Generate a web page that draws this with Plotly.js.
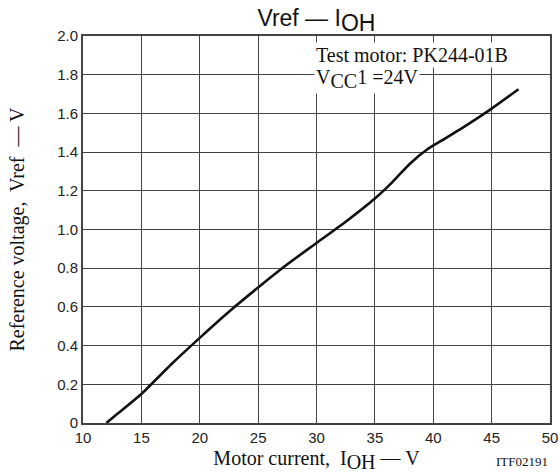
<!DOCTYPE html>
<html>
<head>
<meta charset="utf-8">
<script src="https://cdn.plot.ly/plotly-3.0.1.min.js"></script>
<style>html,body{margin:0;padding:0;background:#fff;}#chart{width:560px;height:473px;}</style>
</head>
<body>
<div id="chart"></div>
<script>
// Motor current I_OH (x) and reference voltage Vref (y)
const motorCurrent = [12, 13, 15, 17.5, 20, 22.5, 25, 27.5, 30, 32.5, 35, 36.5, 38, 39.5, 41, 43, 45, 47.3];
const vref         = [0, 0.05, 0.15, 0.30, 0.44, 0.575, 0.70, 0.82, 0.93, 1.04, 1.16, 1.245, 1.34, 1.415, 1.47, 1.545, 1.625, 1.725];
const xTicks = [10, 15, 20, 25, 30, 35, 40, 45, 50];
const yTicks = [0, 0.2, 0.4, 0.6, 0.8, 1.0, 1.2, 1.4, 1.6, 1.8, 2.0];
const yTickText = ['0', '0.2', '0.4', '0.6', '0.8', '1.0', '1.2', '1.4', '1.6', '1.8', '2.0'];

const serif = 'Liberation Serif, Times New Roman, serif';
const sans = 'Liberation Sans, Arial, sans-serif';

const trace = {
  x: motorCurrent, y: vref, type: 'scatter', mode: 'lines',
  line: {color: '#111', width: 2.6, shape: 'spline', smoothing: 0.6},
  hoverinfo: 'x+y'
};

const layout = {
  width: 560, height: 473,
  margin: {l: 83, r: 10, t: 36, b: 50},
  paper_bgcolor: '#fff', plot_bgcolor: '#fff',
  showlegend: false,
  title: {
    text: 'Vref — I<sub><span style="font-size:23px">OH</span></sub>',
    font: {family: sans, size: 23, color: '#111'},
    x: 0.565, xanchor: 'center', y: 0.962, yanchor: 'middle', yref: 'container'
  },
  xaxis: {
    range: [10, 50], tickvals: xTicks, ticktext: xTicks.map(String),
    showgrid: true, gridcolor: '#444', gridwidth: 1.2,
    zeroline: false, showline: true, linecolor: '#444', linewidth: 2, mirror: true,
    ticks: '', tickfont: {family: sans, size: 15, color: '#222'},
    title: {text: 'Motor current,  I<sub><span style="font-size:20px">OH</span></sub> — V', font: {family: serif, size: 20, color: '#111'}, standoff: 8}
  },
  yaxis: {
    range: [0, 2.0], tickvals: yTicks, ticktext: yTickText,
    showgrid: true, gridcolor: '#444', gridwidth: 1.2,
    zeroline: false, showline: true, linecolor: '#444', linewidth: 2, mirror: true,
    ticks: '', tickfont: {family: sans, size: 15, color: '#222'},
    title: {text: 'Reference voltage,  Vref  — V', font: {family: serif, size: 20, color: '#111'}, standoff: 27}
  },
  annotations: [
    {text: 'Test motor: PK244-01B', xref: 'paper', yref: 'paper', x: 0.494, y: 0.951,
     xanchor: 'left', yanchor: 'middle', showarrow: false, bgcolor: '#fff', borderpad: 1,
     font: {family: serif, size: 20, color: '#111'}},
    {text: 'V<sub><span style="font-size:20px">CC</span></sub>1 =24V', xref: 'paper', yref: 'paper', x: 0.494, y: 0.888,
     xanchor: 'left', yanchor: 'middle', showarrow: false, bgcolor: '#fff', borderpad: 1,
     font: {family: serif, size: 20, color: '#111'}},
    {text: 'ITF02191', xref: 'paper', yref: 'paper', x: 1.0, y: -0.1,
     xanchor: 'right', yanchor: 'middle', showarrow: false,
     font: {family: serif, size: 13, color: '#111'}}
  ]
};

Plotly.newPlot('chart', [trace], layout, {displayModeBar: false, staticPlot: true});
</script>
</body>
</html>
